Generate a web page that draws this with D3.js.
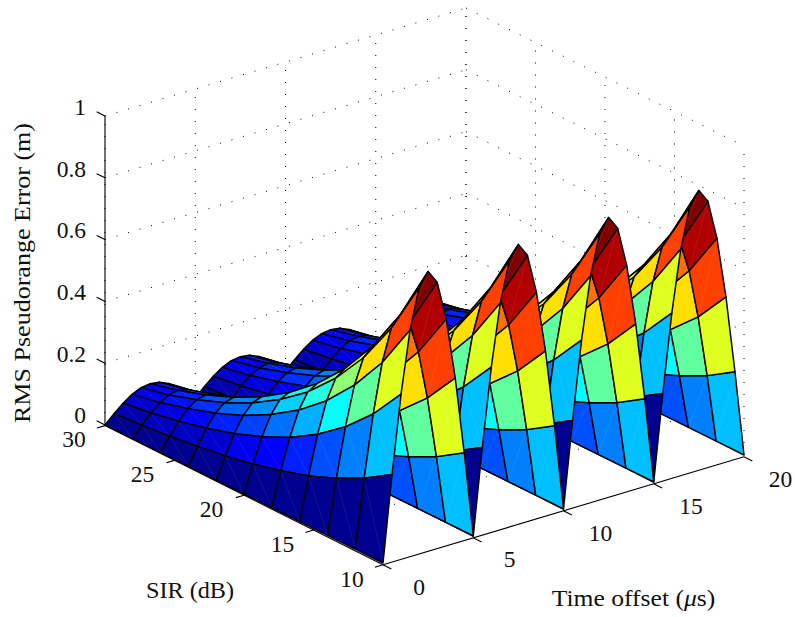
<!DOCTYPE html>
<html><head><meta charset="utf-8">
<script src="https://cdn.jsdelivr.net/npm/d3@7"></script>
<style>html,body{margin:0;padding:0;background:#fff}svg{display:block}text{font-family:"Liberation Serif",serif;fill:#111}</style>
</head><body><svg id="c" width="795" height="617"></svg>
<script>
const sirValues=[10,12,14,16,18,20,22,24,26,28,30];
const periodUs=5, stepUs=0.5, timeMax=20;
// One repeating period of the surface: one row per time step, one column per SIR value
const t00=[0,0,0,0,0,0,0,0,0,0,0];
const t05=[.278,.221,.176,.139,.111,.088,.070,.056,.044,.035,.028];
const t10=[.529,.420,.334,.265,.210,.168,.133,.106,.084,.066,.053];
const t15=[.728,.578,.460,.365,.290,.231,.183,.146,.116,.091,.073];
const t20=[.856,.680,.540,.429,.340,.271,.215,.171,.136,.107,.086];
const t25=[.900,.715,.568,.451,.358,.285,.226,.180,.143,.113,.090];
const period=[t00,t05,t10,t15,t20,t25,t20,t15,t10,t05];
const timeTicks=[0,5,10,15,20], sirTicks=[10,15,20,25,30], zTicks=[0,.2,.4,.6,.8,1];
const zTickLabels=["0","0.2","0.4","0.6","0.8","1"];
const sirTickLabels=["10","15","20","25","30"];
const timeTickLabels=["0","5","10","15","20"];

const svg=d3.select("#c");
const ox=383, oy=563;
const tx=d3.scaleLinear([0,20],[0,361]), ty=d3.scaleLinear([0,20],[0,-108]);
const sx=d3.scaleLinear([10,30],[0,-278]), sy=d3.scaleLinear([10,30],[0,-138]);
const zy=d3.scaleLinear([0,1],[0,-309]);
const P=(t,s,z)=>[ox+tx(t)+sx(s),oy+ty(t)+sy(s)+zy(z)];
const axisDrop=d3.scaleLinear([30,10],[.6,1.8]);
const AP=(t,s,z)=>{const p=P(t,s,z);return [p[0],p[1]+axisDrop(s)];};
const line=d3.line();

// jet(64)
const jetStops=d3.scaleLinear([1,8,24,40,56,64],["#000090","#0000ff","#00ffff","#ffff00","#ff0000","#800000"]).interpolate(d3.interpolateRgb);
const jetColors=d3.range(1,65).map(i=>jetStops(i));
const color=d3.scaleQuantize([0,.9],jetColors);

const timeVals=d3.range(0,timeMax+stepUs/2,stepUs);
const Z=(i,j)=>period[i%period.length][j];

// grid
const grid=svg.append("g").attr("fill","none").attr("stroke","#000").attr("stroke-width",1).attr("stroke-dasharray","1 11");
const gl=(a,b)=>grid.append("path").attr("d",line([a,b]));
zTicks.forEach(z=>{ if(z>0){gl(P(0,30,z),P(20,30,z));} gl(P(20,30,z),P(20,10,z)); });
gl(P(0,30,0),P(20,30,0));
timeTicks.forEach(t=>{ gl(P(t,30,0),P(t,30,1)); if(t>0&&t<20) gl(P(t,10,0),P(t,30,0)); });
sirTicks.forEach(s=>{ gl(P(20,s,0),P(20,s,1)); if(s>10&&s<30) gl(P(0,s,0),P(20,s,0)); });

// axes
const ax=svg.append("g").attr("stroke","#000").attr("stroke-width",1.1).attr("fill","none");
const al=(a,b)=>ax.append("path").attr("d",line([a,b]));
al(P(0,30,0),P(0,30,1)); al(AP(0,10,0),AP(0,30,0)); al(AP(0,10,0),AP(20,10,0));
zTicks.forEach(z=>al(P(0,30,z),P(0,30.6,z)));
sirTicks.forEach(s=>al(AP(0,s,0),AP(-.45,s,0)));
timeTicks.forEach(t=>al(AP(t,10,0),AP(t,9.4,0)));

// surface, far to near
const surf=svg.append("g");
const cells=[];
for(let i=timeVals.length-2;i>=0;i--)for(let j=sirValues.length-2;j>=0;j--)cells.push([i,j]);
cells.forEach(([i,j])=>{
  const v=(a,b)=>P(timeVals[a],sirValues[b],Z(a,b));
  const a=v(i,j),b=v(i+1,j),c=v(i+1,j+1),d=v(i,j+1),col=color(Z(i,j));
  surf.append("path").attr("d",line([a,b,c,d])+"Z").attr("fill",col).attr("stroke",col).attr("stroke-width",.3);
  surf.append("path").attr("d",line([a,c])).attr("fill","none").attr("stroke","#fff").attr("stroke-opacity",.2).attr("stroke-width",.4);
  surf.append("path").attr("d",line([a,b,c,d])+"Z").attr("fill","none").attr("stroke","#000").attr("stroke-width",1.45).attr("stroke-linejoin","round");
});

// labels
const fs=23.5;
const T=(x,y,s,anc)=>svg.append("text").attr("x",x).attr("y",y).attr("font-size",fs).attr("text-anchor",anc||"middle").text(s);
const zBase=[423,361.5,300,238,177,115];
zTickLabels.forEach((s,k)=>T(86,zBase[k],s,"end"));
const sirPos=[[352,587],[282.5,551.5],[211.5,517],[142.5,481.5],[74,447]];
sirTickLabels.forEach((s,k)=>T(sirPos[k][0],sirPos[k][1],s));
const timePos=[[419,595],[509.5,567],[600.5,541],[691,514],[780.5,487]];
timeTickLabels.forEach((s,k)=>T(timePos[k][0],timePos[k][1],s));
T(190,598,"SIR (dB)").attr("textLength",88).attr("lengthAdjust","spacingAndGlyphs");
const tt=T(633.5,605.5,"Time offset (").attr("textLength",163.5).attr("lengthAdjust","spacingAndGlyphs");
tt.append("tspan").attr("font-style","italic").text("μ");
tt.append("tspan").text("s)");
svg.append("text").attr("transform","translate(29.5,273) rotate(-90)").attr("font-size",fs).attr("text-anchor","middle").attr("textLength",300).attr("lengthAdjust","spacingAndGlyphs").text("RMS Pseudorange Error (m)");
</script></body></html>
